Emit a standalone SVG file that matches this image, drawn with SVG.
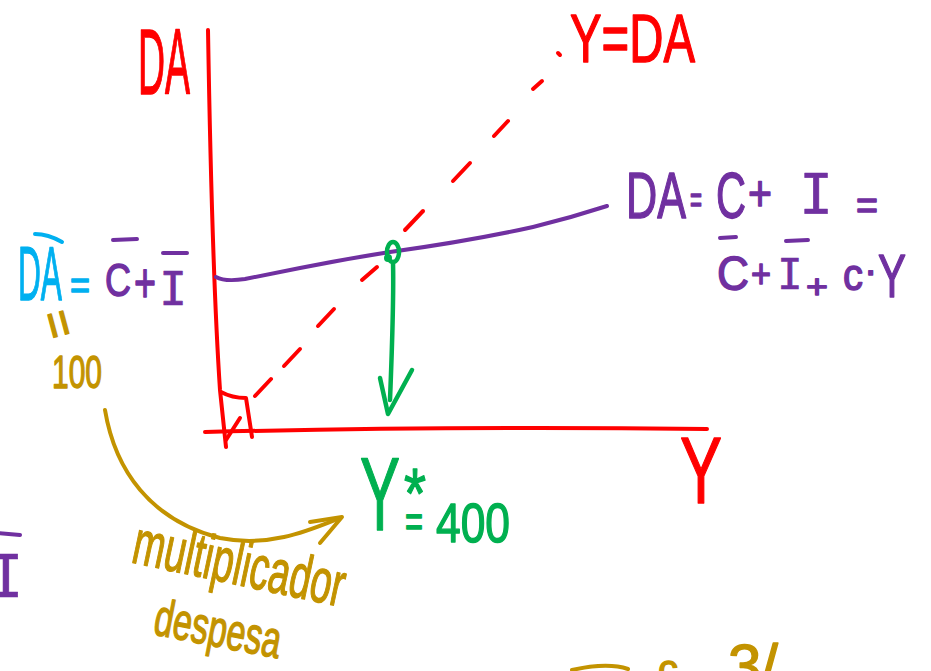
<svg xmlns="http://www.w3.org/2000/svg" width="931" height="671" viewBox="0 0 931 671">
<style>
  .t{font-family:"Liberation Sans",Arial,sans-serif;stroke-width:1.4;stroke-linejoin:round}
  .m{font-family:"DejaVu Sans Mono","Liberation Mono",monospace;stroke-width:0.6;stroke-linejoin:round}
  .red{fill:#FF0000;stroke:#FF0000}
  .pur{fill:#7030A0;stroke:#7030A0}
  .cya{fill:#00B0F0;stroke:#00B0F0}
  .grn{fill:#00B050;stroke:#00B050}
  .gld{fill:#C39300;stroke:#C39300}
  .ln{fill:none;stroke-linecap:round;stroke-linejoin:round}
  .lr{stroke:#FF0000;stroke-width:4}
  .lp{stroke:#7030A0;stroke-width:4}
  .lc{stroke:#00B0F0;stroke-width:4}
  .lg{stroke:#00B050;stroke-width:4.5}
  .lo{stroke:#C39300;stroke-width:4}
</style>
<rect width="931" height="671" fill="#FFFFFF"/>

<g id="connectors">
  <!-- axes -->
  <path class="ln lr" d="M208,30 C210,150 214,300 220,390 L226,447"/>
  <path class="ln lr" d="M205,432 Q450,426 707,429"/>
  <path class="ln lr" d="M221,392 Q232,398 246,398 L252,437"/>
  <!-- 45 degree dashed line Y=DA -->
  <g class="ln lr">
    <path d="M226,440 L240,418"/>
    <path d="M255,396 L271,379"/>
    <path d="M284,366 L300,349"/>
    <path d="M318,326 L334,309"/>
    <path d="M362,280 L377,267"/>
    <path d="M405,230 L423,211"/>
    <path d="M453,181 L470,163"/>
    <path d="M494,136 L508,121"/>
    <path d="M533,89 L542,81"/>
    <path d="M558,53 L560,55"/>
  </g>
  <!-- DA line -->
  <path class="ln lp" d="M216,277 Q225,282 245,279 L300,268 Q345,259 390,252 Q470,241 533,227 Q570,218 607,206"/>
  <!-- equilibrium marker and arrow -->
  <ellipse class="ln lg" cx="393" cy="252" rx="6" ry="10"/>
  <circle cx="388" cy="258" r="4" fill="#00B050"/>
  <path class="ln lg" d="M393,262 C394,300 392,350 390,400"/>
  <path class="ln lg" d="M380,378 L388,414 L412,370"/>
  <!-- multiplier arc -->
  <path class="ln lo" d="M105,410 C115,470 150,520 220,538 C270,548 310,530 340,518"/>
  <path class="ln lo" d="M310,522 L342,517 L320,543"/>
  <!-- bottom right partial stroke -->
  <path class="ln lo" d="M572,670 C590,666 610,663 628,669"/>
</g>

<g id="axis-labels">
  <text class="t red" x="138" y="94" font-size="92" textLength="52" lengthAdjust="spacingAndGlyphs">DA</text>
  <text class="t red" x="570" y="62" font-size="68" textLength="125" lengthAdjust="spacingAndGlyphs">Y=DA</text>
  <text class="t red" x="680" y="503" font-size="95" textLength="42" lengthAdjust="spacingAndGlyphs">Y</text>
</g>

<g id="da-equation">
  <text class="t pur" x="626" y="218" font-size="64" textLength="60" lengthAdjust="spacingAndGlyphs">DA</text>
  <text class="t pur" x="690" y="212" font-size="36" textLength="12" lengthAdjust="spacingAndGlyphs">=</text>
  <text class="t pur" x="716" y="218" font-size="64" textLength="30" lengthAdjust="spacingAndGlyphs">C</text>
  <text class="t pur" x="748" y="210" font-size="50" textLength="24" lengthAdjust="spacingAndGlyphs">+</text>
  <text class="m pur" x="816" y="213" font-size="56" text-anchor="middle">I</text>
  <text class="t pur" x="856" y="219" font-size="40" textLength="22" lengthAdjust="spacingAndGlyphs">=</text>
  <path class="ln lp" d="M720,238 L736,237"/>
  <text class="t pur" x="717" y="290" font-size="48" textLength="32" lengthAdjust="spacingAndGlyphs">C</text>
  <text class="t pur" x="751" y="288" font-size="40" textLength="20" lengthAdjust="spacingAndGlyphs">+</text>
  <path class="ln lp" d="M786,241 L808,240"/>
  <text class="m pur" x="790" y="289" font-size="42" text-anchor="middle">I</text>
  <text class="t pur" x="806" y="298" font-size="34" textLength="22" lengthAdjust="spacingAndGlyphs">+</text>
  <text class="t pur" x="843" y="290" font-size="44" textLength="20" lengthAdjust="spacingAndGlyphs">c</text>
  <text class="t pur" x="864" y="284" font-size="40">·</text>
  <text class="t pur" x="878" y="297" font-size="62" textLength="28" lengthAdjust="spacingAndGlyphs">Y</text>
</g>

<g id="autonomous-demand">
  <path class="ln lc" d="M35,234 Q48,234 62,242"/>
  <text class="t cya" x="18" y="300" font-size="76" textLength="44" lengthAdjust="spacingAndGlyphs">DA</text>
  <text class="t cya" x="70" y="299" font-size="40" textLength="20" lengthAdjust="spacingAndGlyphs">=</text>
  <path class="ln lp" d="M113,240 L137,239"/>
  <text class="t pur" x="105" y="296" font-size="46" textLength="26" lengthAdjust="spacingAndGlyphs">C</text>
  <text class="t pur" x="134" y="302" font-size="56" textLength="22" lengthAdjust="spacingAndGlyphs">+</text>
  <path class="ln lp" d="M163,253 L187,253"/>
  <text class="m pur" x="173" y="305" font-size="46" text-anchor="middle">I</text>
  <text class="t gld" x="0" y="0" font-size="48" transform="translate(59,324) rotate(75)" text-anchor="middle" dominant-baseline="central">=</text>
  <text class="t gld" x="52" y="388" font-size="46" textLength="50" lengthAdjust="spacingAndGlyphs">100</text>
</g>

<g id="equilibrium">
  <text class="t grn" x="360" y="530" font-size="104" textLength="40" lengthAdjust="spacingAndGlyphs">Y</text>
  <text class="t grn" x="404" y="518" font-size="70" textLength="22" lengthAdjust="spacingAndGlyphs">*</text>
  <text class="t grn" x="405" y="537" font-size="44" textLength="18" lengthAdjust="spacingAndGlyphs">=</text>
  <text class="t grn" x="436" y="542" font-size="56" textLength="74" lengthAdjust="spacingAndGlyphs">400</text>
</g>

<g id="multiplier">
  <text class="t gld" x="130" y="562" font-size="62" textLength="215" lengthAdjust="spacingAndGlyphs" transform="rotate(12 130 562)">multiplicador</text>
  <text class="t gld" x="152" y="634" font-size="52" textLength="128" lengthAdjust="spacingAndGlyphs" transform="rotate(11 152 634)">despesa</text>
</g>

<g id="edge-fragments">
  <path class="ln lp" d="M-2,533 L20,535"/>
  <text class="m pur" x="6" y="597" font-size="58" text-anchor="middle">I</text>
  <text class="t gld" x="658" y="683" font-size="40">c</text>
  <text class="t gld" x="728" y="686" font-size="60">3/</text>
</g>
</svg>
